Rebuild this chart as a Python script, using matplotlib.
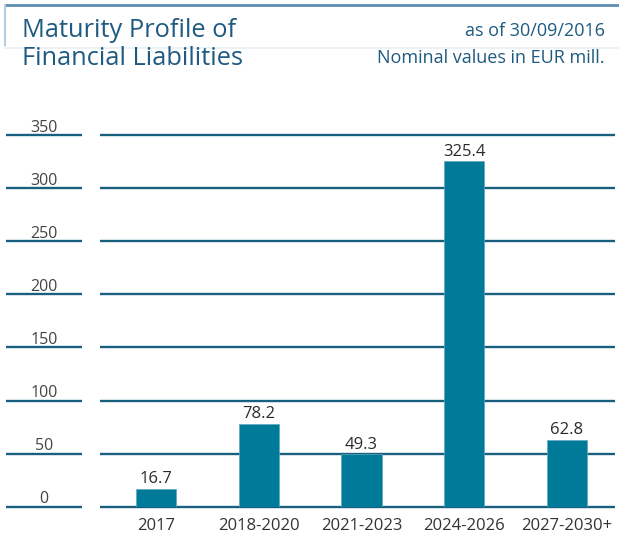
import matplotlib.pyplot as plt
import matplotlib.transforms as mtransforms

# ==== data ====
categories = ["2017", "2018-2020", "2021-2023", "2024-2026", "2027-2030+"]
values = [16.7, 78.2, 49.3, 325.4, 62.8]
y_ticks = [0, 50, 100, 150, 200, 250, 300, 350]

TITLE_LINES = ["Maturity Profile of", "Financial Liabilities"]
NOTE_LINES = ["as of 30/09/2016", "Nominal values in EUR mill."]

BAR_COLOR = "#007a99"
GRID_COLOR = "#1b5f7f"
TITLE_COLOR = "#1f5a80"
TEXT_COLOR = "#333333"

plt.rcParams["font.family"] = ["Open Sans", "DejaVu Sans"]

W, H = 619, 533
fig = plt.figure(figsize=(W / 100, H / 100), dpi=100)

# axes: category centres at 156px .. 567px, y=0 at 506.7px, y=350 at 135px
ax = fig.add_axes([104.6 / W, (H - 506.7) / H, 513.8 / W, (506.7 - 135) / H])
ax.set_xlim(-0.5, len(categories) - 0.5)
ax.set_ylim(0, 350)
for s in ax.spines.values():
    s.set_visible(False)
ax.set_xticks([])
ax.set_yticks([])
ax.patch.set_alpha(0)

# gridlines (plot area part + short part under the tick labels)
trans = mtransforms.blended_transform_factory(fig.transFigure, ax.transData)
ax.hlines(y_ticks, 100 / W, 615 / W, transform=trans, color=GRID_COLOR, lw=1.7, clip_on=False, zorder=1)
ax.hlines(y_ticks, 6 / W, 82 / W, transform=trans, color=GRID_COLOR, lw=1.7, clip_on=False)
for t in y_ticks:
    ax.annotate(str(t), xy=(44 / W, t), xycoords=trans, xytext=(0, 2.5), textcoords="offset points",
                ha="center", va="baseline", fontsize=11.5, color="#444444", annotation_clip=False)

# bars
x = range(len(categories))
ax.bar(x, values, width=0.39, color=BAR_COLOR, edgecolor="#5fa9c0", linewidth=0.5, zorder=3)
for xi, v in zip(x, values):
    ax.annotate(f"{v:.1f}", xy=(xi, v), xytext=(0, 4), textcoords="offset points",
                ha="center", va="baseline", fontsize=12, color="#2b2b2b", annotation_clip=False)
    ax.annotate(categories[xi], xy=(xi, 0), xytext=(0, -17), textcoords="offset points",
                ha="center", va="baseline", fontsize=12, color=TEXT_COLOR, annotation_clip=False)

# frame at the top
fig.add_artist(plt.Line2D([5 / W, 1], [1 - 5 / H, 1 - 5 / H], color="#5b8db0", lw=2))
fig.add_artist(plt.Line2D([5 / W, 5 / W], [1 - 5 / H, 1 - 45 / H], color="#b5cde0", lw=1.5))
fig.add_artist(plt.Line2D([5 / W, 1], [1 - 48 / H, 1 - 48 / H], color="#e8f0f5", lw=1.2))

for line, base in zip(TITLE_LINES, [37, 65]):
    fig.text(22 / W, 1 - base / H, line, ha="left", va="baseline", fontsize=18.3, color=TITLE_COLOR)
for line, base in zip(NOTE_LINES, [36, 63]):
    fig.text(605 / W, 1 - base / H, line, ha="right", va="baseline", fontsize=13, color=TITLE_COLOR)

fig.savefig("out.png", dpi=100)
